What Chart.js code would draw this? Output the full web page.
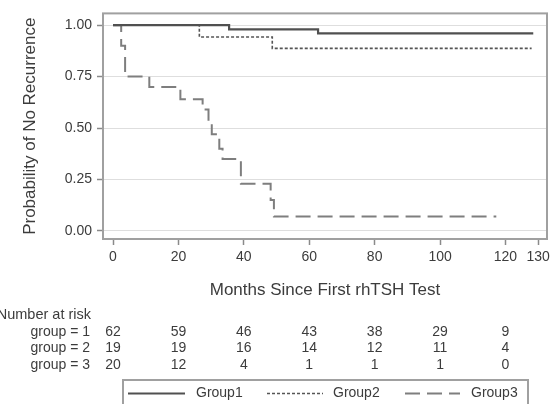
<!DOCTYPE html>
<html>
<head>
<meta charset="utf-8">
<script src="https://cdn.jsdelivr.net/npm/chart.js@4/dist/chart.umd.min.js"></script>
<style>
  html, body { margin: 0; padding: 0; background: #fff; }
  #wrap { width: 560px; height: 404px; position: relative; }
</style>
</head>
<body>
<div id="wrap"><canvas id="c" width="560" height="404"></canvas></div>
<script>
// ---- data ----
const groupNames = ["Group1", "Group2", "Group3"];
const g1Times = [0, 35.5, 62.7, 128.5];
const g1Surv  = [1.00, 0.979, 0.960, 0.960];
const g2Times = [0, 26.4, 48.7, 128.0];
const g2Surv  = [1.00, 0.942, 0.887, 0.887];
const g3Times = [0, 2.5, 3.7, 11.1, 20.6, 27.4, 29.2, 30.2, 32.5, 33.5, 39.1, 48.2, 49.2, 117.2];
const g3Surv  = [1.00, 0.90, 0.75, 0.70, 0.64, 0.59, 0.53, 0.47, 0.40, 0.35, 0.23, 0.15, 0.07, 0.07];
const xTickValues = [0, 20, 40, 60, 80, 100, 120, 130];
const yTickValues = [0, 0.25, 0.5, 0.75, 1.0];
const riskTimes = [0, 20, 40, 60, 80, 100, 120];
const riskG1 = [62, 59, 46, 43, 38, 29, 9];
const riskG2 = [19, 19, 16, 14, 12, 11, 4];
const riskG3 = [20, 12, 4, 1, 1, 1, 0];
const riskLabels = ["group = 1", "group = 2", "group = 3"];

const FONT = "'Liberation Sans', Arial, sans-serif";
const TXT = '#3c3c3c';

function pts(t, s) { return t.map((v, i) => ({ x: v, y: s[i] })); }

const framePlugin = {
  id: 'frame',
  afterDatasetsDraw(chart) {
    const { ctx, chartArea: a } = chart;
    ctx.save();
    ctx.strokeStyle = '#a0a0a0';
    ctx.lineWidth = 2;
    ctx.strokeRect(a.left, a.top, a.right - a.left, a.bottom - a.top);
    ctx.restore();
  }
};

const tablePlugin = {
  id: 'riskTable',
  afterDraw(chart) {
    const { ctx } = chart;
    const xs = chart.scales.x;
    ctx.save();
    ctx.fillStyle = TXT;
    ctx.textBaseline = 'middle';
    ctx.textAlign = 'right';
    ctx.font = '14.5px ' + FONT;
    ctx.fillText('Number at risk', 91, 315);
    ctx.font = '14px ' + FONT;
    const rows = [riskG1, riskG2, riskG3];
    const rowY = [332, 348.5, 365];
    rows.forEach((r, i) => {
      ctx.textAlign = 'right';
      ctx.fillText(riskLabels[i], 90, rowY[i]);
      ctx.textAlign = 'center';
      r.forEach((v, j) => ctx.fillText(String(v), xs.getPixelForValue(riskTimes[j]), rowY[i]));
    });
    // legend box
    ctx.strokeStyle = '#a0a0a0';
    ctx.lineWidth = 2;
    ctx.strokeRect(123, 380, 405, 40);
    const ly = 393.5;
    const lineX = [[128, 185], [267, 323], [405, 460]];
    const textX = [196, 333, 471];
    chart.data.datasets.forEach((ds, i) => {
      ctx.save();
      ctx.strokeStyle = ds.borderColor;
      ctx.lineWidth = ds.borderWidth;
      ctx.setLineDash(ds.borderDash || []);
      ctx.beginPath();
      ctx.moveTo(lineX[i][0], ly);
      ctx.lineTo(lineX[i][1], ly);
      ctx.stroke();
      ctx.restore();
      ctx.fillStyle = TXT;
      ctx.textAlign = 'left';
      ctx.fillText(ds.label, textX[i], ly);
    });
    ctx.restore();
  }
};

new Chart(document.getElementById('c'), {
  type: 'line',
  data: {
    datasets: [
      { label: groupNames[0], data: pts(g1Times, g1Surv), borderColor: '#505050', borderWidth: 2.2, stepped: 'before', pointRadius: 0, fill: false },
      { label: groupNames[1], data: pts(g2Times, g2Surv), borderColor: '#555555', borderWidth: 1.6, borderDash: [3, 2], stepped: 'before', pointRadius: 0, fill: false },
      { label: groupNames[2], data: pts(g3Times, g3Surv), borderColor: '#7e7e7e', borderWidth: 2, borderDash: [15, 7], stepped: 'before', pointRadius: 0, fill: false }
    ]
  },
  options: {
    responsive: false,
    animation: false,
    events: [],
    layout: { padding: { left: 0, top: 7, right: 13, bottom: 0 } },
    plugins: { legend: { display: false }, tooltip: { enabled: false } },
    scales: {
      x: {
        type: 'linear',
        min: -3.06,
        max: 132.7,
        afterBuildTicks: s => { s.ticks = xTickValues.map(v => ({ value: v })); },
        afterFit: s => { s.height = 165; },
        ticks: { color: TXT, font: { family: FONT, size: 14 }, padding: 4, maxRotation: 0, autoSkip: false },
        grid: { drawOnChartArea: false, drawTicks: true, tickLength: 6, tickColor: '#8a8a8a', tickWidth: 1.5 },
        border: { display: false },
        title: { display: true, text: 'Months Since First rhTSH Test', color: TXT, font: { family: FONT, size: 17 }, padding: { top: 0, bottom: 103 } }
      },
      y: {
        type: 'linear',
        min: -0.039,
        max: 1.057,
        afterBuildTicks: s => { s.ticks = yTickValues.map(v => ({ value: v })); },
        afterFit: s => { s.width = 103; },
        ticks: { color: TXT, font: { family: FONT, size: 14 }, padding: 5, callback: v => Number(v).toFixed(2) },
        grid: { color: '#dedede', lineWidth: 1, drawTicks: true, tickLength: 6, tickColor: '#8a8a8a', tickWidth: 1.5 },
        border: { display: false },
        title: { display: true, text: 'Probability of No Recurrence', color: TXT, font: { family: FONT, size: 17 }, padding: { top: 20, bottom: 0 } }
      }
    }
  },
  plugins: [framePlugin, tablePlugin]
});
</script>
</body>
</html>
